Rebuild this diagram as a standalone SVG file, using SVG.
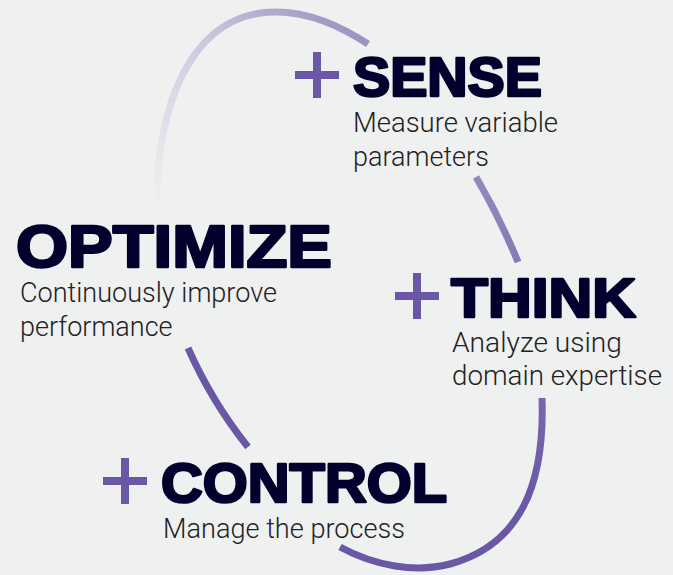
<svg xmlns="http://www.w3.org/2000/svg" width="673" height="575" viewBox="0 0 673 575">
<defs>
<linearGradient id="gTop" gradientUnits="userSpaceOnUse" x1="157" y1="207" x2="368" y2="42">
<stop offset="0" stop-color="#6a58a6" stop-opacity="0"/>
<stop offset="0.5" stop-color="#6a58a6" stop-opacity="0.25"/>
<stop offset="1" stop-color="#6a58a6" stop-opacity="0.62"/>
</linearGradient>
<linearGradient id="gMid" gradientUnits="userSpaceOnUse" x1="476" y1="177" x2="518" y2="262">
<stop offset="0" stop-color="#6a58a6" stop-opacity="0.68"/>
<stop offset="1" stop-color="#6a58a6" stop-opacity="0.78"/>
</linearGradient>
<linearGradient id="gBot" gradientUnits="userSpaceOnUse" x1="542" y1="398" x2="520" y2="500">
<stop offset="0" stop-color="#6a58a6" stop-opacity="0.9"/>
<stop offset="1" stop-color="#6a58a6" stop-opacity="1"/>
</linearGradient>
</defs>
<style>
.head{font-family:"Liberation Sans",Arial,sans-serif;font-weight:bold;fill:#03002e;stroke:#03002e;stroke-width:2.6;stroke-linejoin:round}
.sub{font-family:Roboto,"Liberation Sans",Arial,sans-serif;font-weight:300;fill:#222222;font-size:27px}
.plus{fill:#6a58a6}
.conn{fill:none;stroke-width:7}
</style>
<rect width="673" height="575" fill="#eff0f0"/>
<g id="connectors">
<path class="conn" stroke="url(#gTop)" d="M157,207 C155,110 190,12 275,12 C310,12 340,26 368,44"/>
<path class="conn" stroke="url(#gMid)" d="M476,177 Q500,218 518,262"/>
<path class="conn" stroke="url(#gBot)" d="M542,398 C545,485 520,545 450,564 C415,573 375,566 340,547"/>
<path class="conn" stroke="#6a58a6" d="M188,348 Q212,402 248,447"/>
</g>
<g id="sense">
<path class="plus" d="M313,52h8v19h18v8h-18v19h-8v-19h-18v-8h18z"/>
<text class="head" x="353" y="96" font-size="55" textLength="189" lengthAdjust="spacingAndGlyphs">SENSE</text>
<text class="sub" x="353" y="132" textLength="205" lengthAdjust="spacingAndGlyphs">Measure variable</text>
<text class="sub" x="353" y="166">parameters</text>
</g>
<g id="think">
<path class="plus" d="M413,273h8v19h18v8h-18v19h-8v-19h-18v-8h18z"/>
<text class="head" x="451" y="317" font-size="55" textLength="185" lengthAdjust="spacingAndGlyphs">THINK</text>
<text class="sub" x="452" y="352" textLength="170" lengthAdjust="spacingAndGlyphs">Analyze using</text>
<text class="sub" x="452" y="385" textLength="210" lengthAdjust="spacingAndGlyphs">domain expertise</text>
</g>
<g id="optimize">
<text class="head" x="16" y="267" font-size="60" textLength="316" lengthAdjust="spacingAndGlyphs">OPTIMIZE</text>
<text class="sub" x="20" y="302" textLength="257" lengthAdjust="spacingAndGlyphs">Continuously improve</text>
<text class="sub" x="20" y="336">performance</text>
</g>
<g id="control">
<path class="plus" d="M121,458h8v19h18v8h-18v19h-8v-19h-18v-8h18z"/>
<text class="head" x="161" y="502" font-size="55" textLength="286" lengthAdjust="spacingAndGlyphs">CONTROL</text>
<text class="sub" x="163" y="538" textLength="242" lengthAdjust="spacingAndGlyphs">Manage the process</text>
</g>
</svg>
